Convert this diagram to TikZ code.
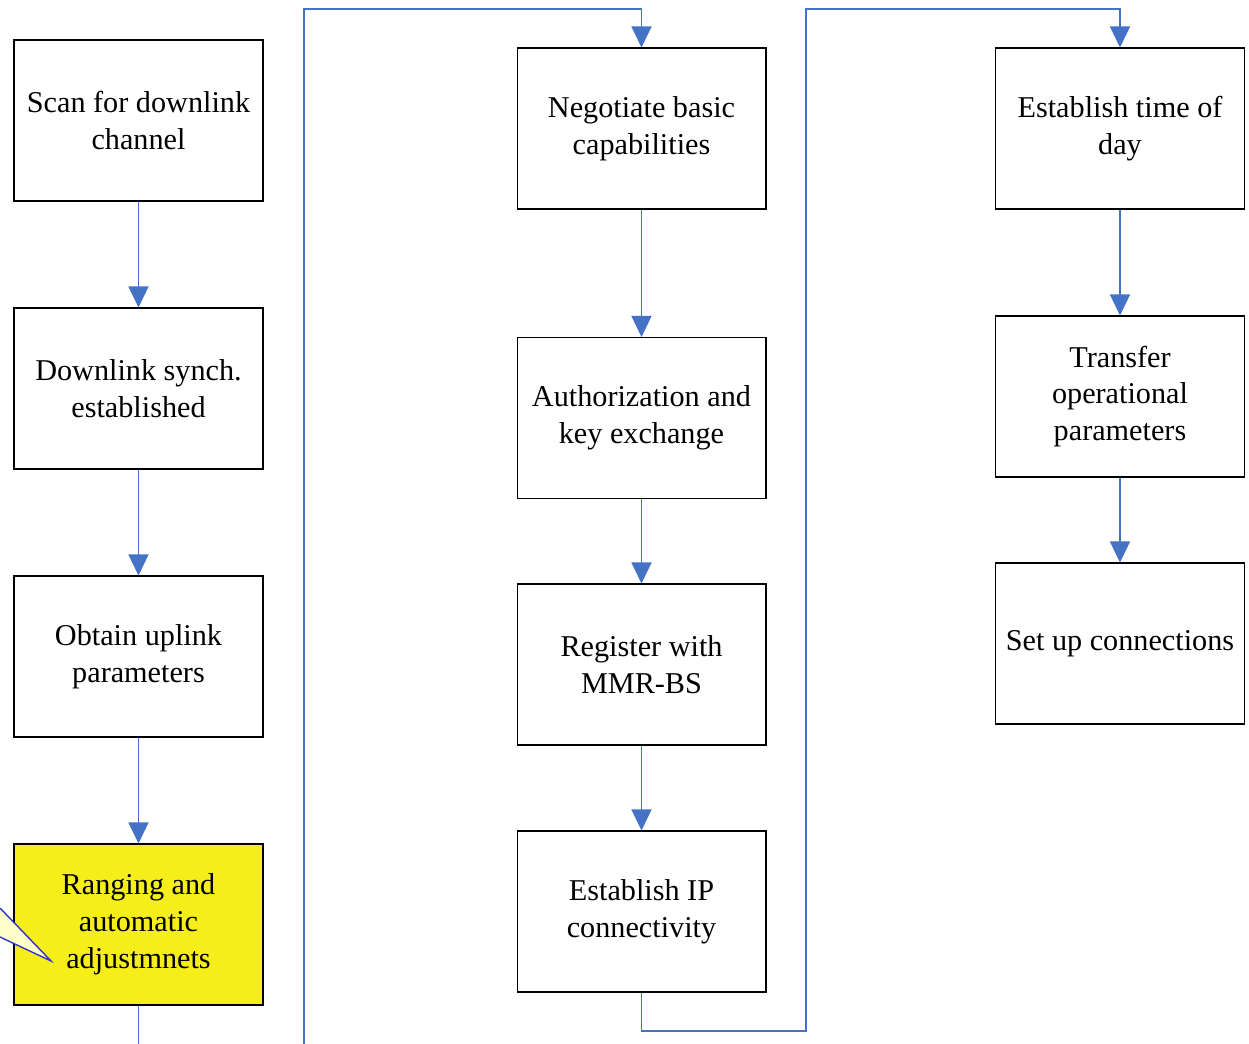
\documentclass[tikz,border=0pt]{standalone}
\usepackage{fontspec}
\setmainfont{Liberation Serif}
\usetikzlibrary{arrows.meta}

\definecolor{flowblue}{RGB}{68,114,196}
\definecolor{boxyellow}{RGB}{245,238,27}
\definecolor{noteblue}{RGB}{52,52,200}
\definecolor{notefill}{RGB}{255,255,204}

\begin{document}
\begin{tikzpicture}[x=0.02cm, y=-0.02cm,
  stage/.style={draw, line width=0.6pt, minimum width=4.98cm, minimum height=3.22cm,
    align=center, inner sep=0pt, font=\fontsize{17.2}{21}\selectfont},
  flow/.style={draw=flowblue, line width=0.8pt, -{Triangle[length=0.42cm, width=0.4cm]}},
  link/.style={draw=flowblue, line width=0.8pt}]
\useasboundingbox (0,0) rectangle (1249,1044);

% first column
\node[stage] (scan) at (138.5,120.5) {Scan for downlink\\channel};
\node[stage] (synch) at (138.5,388.5) {Downlink synch.\\established};
\node[stage] (uplink) at (138.5,656.5) {Obtain uplink\\parameters};
\node[stage, fill=boxyellow] (ranging) at (138.5,924.5) {Ranging and\\automatic\\adjustmnets};

% second column
\node[stage] (negotiate) at (641.5,128.5) {Negotiate basic\\capabilities};
\node[stage] (auth) at (641.5,418) {Authorization and\\key exchange};
\node[stage] (register) at (641.5,664.5) {Register with\\MMR-BS};
\node[stage] (ipconn) at (641.5,911.5) {Establish IP\\connectivity};

% third column
\node[stage] (tod) at (1120,128.5) {Establish time of\\day};
\node[stage] (params) at (1120,396.5) {Transfer\\operational\\parameters};
\node[stage] (conns) at (1120,643.5) {Set up connections};

% free ends of the long links
\coordinate (out1) at (138.5,1044);
\coordinate (in1) at (304,1044);
\coordinate (top1) at (304,9);
\coordinate (bend2) at (806,1031);
\coordinate (top2) at (806,9);

% arrows
\draw[flow] (scan) -- (synch);
\draw[flow] (synch) -- (uplink);
\draw[flow] (uplink) -- (ranging);
\draw[link] (ranging) -- (out1);
\draw[flow] (in1) -- (top1) -| (negotiate.north);
\draw[flow] (negotiate) -- (auth);
\draw[flow] (auth) -- (register);
\draw[flow] (register) -- (ipconn);
\draw[flow] (ipconn.south) |- (bend2) -- (top2) -| (tod.north);
\draw[flow] (tod) -- (params);
\draw[flow] (params) -- (conns);

% callout pointer
\fill[notefill] (0,908) -- (51,961) -- (0,937) -- cycle;
\draw[noteblue, line width=0.8pt] (0,908) -- (51,961) -- (0,937);
\end{tikzpicture}
\end{document}
